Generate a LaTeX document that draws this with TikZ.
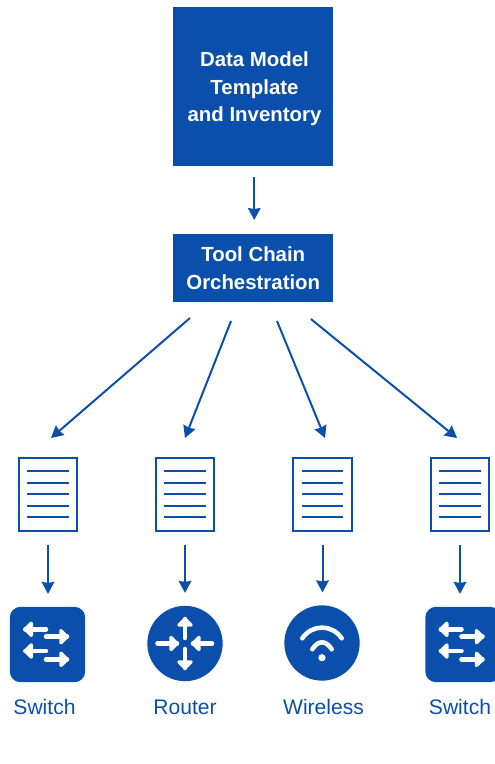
\documentclass[tikz,border=0pt]{standalone}
\usepackage{fontspec}
\setmainfont{Liberation Sans}
\usetikzlibrary{arrows.meta}
\definecolor{cblue}{HTML}{0A4FAB}
\tikzset{
  x=0.75pt,y=-0.75pt,
  box/.style={fill=cblue,draw=none,inner sep=0pt,anchor=north west},
  boxtext/.style={text=white,font=\fontsize{15.3}{20.6}\selectfont\bfseries,align=center,inner sep=0pt},
  conn/.style={draw=cblue,line width=1.5pt,-{Stealth[length=9pt,width=9.5pt,inset=0.8pt]}},
  docbox/.style={draw=cblue,line width=1.7pt,fill=white,minimum width=44pt,minimum height=55pt,inner sep=0pt},
  docline/.style={draw=cblue,line width=1.5pt},
  lab/.style={text=cblue,font=\fontsize{15.8}{18}\selectfont,inner sep=0pt,anchor=base},
  swbox/.style={fill=cblue,rounded corners=8pt,minimum width=56.5pt,minimum height=56.5pt,inner sep=0pt},
  rnd/.style={fill=cblue,circle,minimum size=56.5pt,inner sep=0pt},
  wht/.style={draw=white,line width=3.4pt,line cap=round,line join=round},
  whs/.style={draw=white,fill=white,line width=2.6pt,line join=round},
}
\newcommand{\docat}[3]{%
  \node[docbox] (#3) at (#1,#2) {};
  \foreach \yy in {-23.5,-12,-0.5,11,22.5}
    \draw[docline] ([xshift=-15.5pt,yshift=-\yy*0.75pt]#3.center) -- ([xshift=15.5pt,yshift=-\yy*0.75pt]#3.center);
}
% #1 tail x, #2 outer tip x, #3 y
\newcommand{\harrow}[3]{%
  \pgfmathsetmacro{\dirn}{ifthenelse(#2>#1,1,-1)}
  \pgfmathsetmacro{\tipx}{#2-\dirn*2}
  \draw[wht] (#1,#3) -- (\tipx,#3);
  \draw[whs] ({\tipx-\dirn*6},#3-6) -- (\tipx,#3) -- ({\tipx-\dirn*6},#3+6) -- cycle;
}
\newcommand{\varrow}[3]{%
  \pgfmathsetmacro{\dirn}{ifthenelse(#2>#1,1,-1)}
  \pgfmathsetmacro{\tipy}{#2-\dirn*2}
  \draw[wht] (#3,#1) -- (#3,\tipy);
  \draw[whs] (#3-6,{\tipy-\dirn*6}) -- (#3,\tipy) -- (#3+6,{\tipy-\dirn*6}) -- cycle;
}
\newcommand{\switchicon}[3]{%
  \node[swbox] (#3) at (#1,#2) {};
  \begin{scope}[shift={(#1,#2)}]
    \harrow{-1.5}{-24.2}{-15.2}
    \harrow{-1.5}{21.5}{-7.8}
    \harrow{-1.5}{-24.2}{6.5}
    \harrow{-1.5}{21.5}{14.8}
  \end{scope}
}
\begin{document}
\begin{tikzpicture}
\useasboundingbox (0,0) rectangle (495,764);
\clip (0,0) rectangle (495,764);
\node[box,minimum width=120pt,minimum height=119.25pt] (model) at (173,7) {};
\node[boxtext] (modeltext) at (254.5,89) {Data Model\\Template\\and Inventory};
\node[box,minimum width=120pt,minimum height=51pt] (chain) at (173,234) {};
\node[boxtext] (chaintext) at (chain.center) {Tool Chain\\Orchestration};
\draw[conn,shorten <=8pt,shorten >=10.5pt] ([xshift=0.75pt]model.south) -- ([xshift=0.75pt]chain.north);

\docat{48}{494.5}{d1}
\docat{185}{494.5}{d2}
\docat{322.5}{494.5}{d3}
\docat{460}{494.5}{d4}

\coordinate (s1) at (208.5,302);
\coordinate (s2) at (238.5,302);
\coordinate (s3) at (269.2,302);
\coordinate (s4) at (290,302);
\coordinate (e1) at (29,457);
\coordinate (e2) at (177.5,457);
\coordinate (e3) at (332.8,457);
\coordinate (e4) at (480.3,457);
\draw[conn,shorten <=18.4pt,shorten >=21.8pt] (s1) -- (e1);
\draw[conn,shorten <=15.3pt,shorten >=15.3pt] (s2) -- (e2);
\draw[conn,shorten <=15.4pt,shorten >=15.4pt] (s3) -- (e3);
\draw[conn,shorten <=20.2pt,shorten >=22.5pt] (s4) -- (e4);

\switchicon{47.5}{644.5}{i1}
\node[rnd] (i2) at (185,643.5) {};
\node[rnd] (i3) at (322,643) {};
\switchicon{463}{644.5}{i4}

\varrow{638}{617}{185}
\varrow{649}{670}{185}
\harrow{157.5}{179}{643.5}
\harrow{212}{191}{643.5}

\draw[wht] (312.3,649.3) .. controls (318,640) and (326,640) .. (331.7,649.3);
\draw[wht] (302.3,638.3) .. controls (312,624) and (332,624) .. (341.7,638.3);
\fill[white] (322,657.7) circle[radius=2.7pt];

\draw[conn,shorten <=9.5pt,shorten >=9.5pt] (d1.south) -- (d1.south |- i1.north);
\draw[conn,shorten <=9.5pt,shorten >=9.5pt] (d2.south) -- (d2.south |- i2.north);
\draw[conn,shorten <=9.5pt,shorten >=9.5pt] (d3.south) -- (d3.south |- i3.north);
\draw[conn,shorten <=9.5pt,shorten >=9.5pt] (d4.south) -- (d4.south |- i4.north);

\node[lab] (l1) at (44.5,714.5) {Switch};
\node[lab] (l2) at (185,714.5) {Router};
\node[lab] (l3) at (323.5,714.5) {Wireless};
\node[lab] (l4) at (460,714.5) {Switch};
\end{tikzpicture}
\end{document}
